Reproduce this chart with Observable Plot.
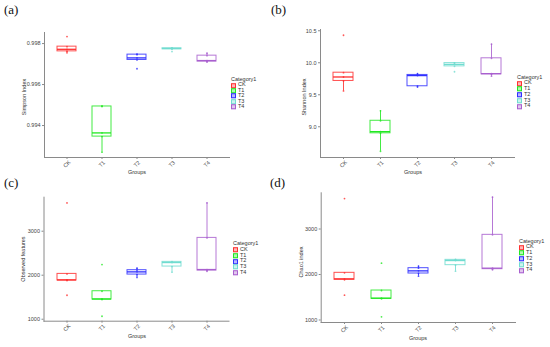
<!DOCTYPE html>
<html><head><meta charset="utf-8">
<script src="https://cdn.jsdelivr.net/npm/d3@7"></script>
<script src="https://cdn.jsdelivr.net/npm/@observablehq/plot@0.6"></script>
<style>
body{margin:0;background:#fff;}
#wrap{position:relative;width:550px;height:347px;overflow:hidden;font-family:"Liberation Sans",Arial,sans-serif;background:#fff;}
.panel{position:absolute;}
.tag{position:absolute;font-family:"Liberation Serif","Times New Roman",serif;font-weight:normal;font-size:13px;color:#111;line-height:1;}
.ytitle{position:absolute;font-size:5.5px;color:#333;transform:translate(-50%,-50%) rotate(-90deg);white-space:nowrap;line-height:1;}
.xtitle{position:absolute;font-size:5.5px;color:#333;transform:translate(-50%,-50%);white-space:nowrap;line-height:1;}
.leg{position:absolute;font-size:5.5px;color:#333;line-height:1;white-space:nowrap;}
.leg .it{position:absolute;left:0;display:flex;align-items:center;transform:translateY(-50%);}
.leg .key{display:inline-block;width:3px;height:3px;border:0.8px solid;margin-right:2px;}
</style>
</head><body>
<div id="wrap"></div>
<script>
const cats = ["CK", "T1", "T2", "T3", "T4"];
const colors = ["#ff3030", "#22e822", "#3030ff", "#70dcd0", "#a960cf"];

const simpsonValues = [
  [0.99755, 0.99762, 0.99772, 0.99785, 0.99834],
  [0.99270, 0.99346, 0.99364, 0.99493, 0.99495],
  [0.99677, 0.99720, 0.99730, 0.99746, 0.99748],
  [0.99761, 0.99772, 0.99776, 0.99777, 0.99779],
  [0.99710, 0.99712, 0.99717, 0.99741, 0.99753]
];
const shannonValues = [
  [9.56, 9.716, 9.778, 9.845, 10.43],
  [8.618, 8.898, 8.924, 9.094, 9.25],
  [9.62, 9.633, 9.80, 9.81, 9.83],
  [9.86, 9.944, 9.975, 9.995, 10.0],
  [9.79, 9.82, 9.83, 10.07, 10.29]
];
const observedValues = [
  [1545, 1880, 1894, 2030, 3644],
  [1068, 1447, 1460, 1636, 2242],
  [1950, 2015, 2076, 2114, 2160],
  [2068, 2197, 2288, 2303, 2310],
  [2090, 2106, 2129, 2848, 3644]
];
const chao1Values = [
  [1546, 1883, 1905, 2037, 3670],
  [1070, 1465, 1480, 1648, 2249],
  [1963, 2022, 2080, 2139, 2183],
  [2073, 2205, 2307, 2322, 2330],
  [2102, 2117, 2139, 2872, 3700]
];

const simpsonTicks = [0.994, 0.996, 0.998];
const shannonTicks = [9.0, 9.5, 10.0, 10.5];
const countTicks = [1000, 2000, 3000];

const panels = [
  {tag: "(a)", tagX: 4, tagY: 3, values: simpsonValues, title: "Simpson Index", domain: [0.99244, 0.99854], ticks: simpsonTicks, fmt: d3.format(".3f"),
   left: 0, top: 0, w: 275, h: 174, mt: 32, mb: 17, ml: 44, mr: 46, ytx: 25, yty: 97, xtx: 137, xty: 172.5, lx: 231, ly: 80, lstep: 5.4},
  {tag: "(b)", tagX: 271, tagY: 3, values: shannonValues, title: "Shannon Index", domain: [8.52, 10.52], ticks: shannonTicks, fmt: d3.format(".1f"),
   left: 275, top: 0, w: 275, h: 174, mt: 29, mb: 17, ml: 45, mr: 36, ytx: 305, yty: 97, xtx: 413, xty: 173, lx: 517, ly: 77.5, lstep: 5.75},
  {tag: "(c)", tagX: 4, tagY: 176, values: observedValues, title: "Observed features", domain: [955, 3773], ticks: countTicks, fmt: d3.format("d"),
   left: 0, top: 174, w: 275, h: 173, mt: 22.7, mb: 26.3, ml: 43.5, mr: 46.5, ytx: 24, yty: 259, xtx: 137, xty: 337, lx: 233, ly: 244, lstep: 5.75},
  {tag: "(d)", tagX: 270, tagY: 176, values: chao1Values, title: "Chao1 index", domain: [945, 3796], ticks: countTicks, fmt: d3.format("d"),
   left: 275, top: 174, w: 275, h: 173, mt: 18.3, mb: 25, ml: 45.7, mr: 35, ytx: 302, yty: 262, xtx: 418, xty: 339, lx: 519, ly: 241.7, lstep: 5.75}
];

function boxStats(vals, cat) {
  const s = vals.slice().sort(d3.ascending);
  const q1 = d3.quantile(s, 0.25), med = d3.quantile(s, 0.5), q3 = d3.quantile(s, 0.75);
  const iqr = q3 - q1;
  const lo = d3.min(s.filter(v => v >= q1 - 1.5 * iqr));
  const hi = d3.max(s.filter(v => v <= q3 + 1.5 * iqr));
  return {cat, q1, med, q3, lo, hi};
}

const wrap = document.getElementById("wrap");
function addDiv(cls, text, x, y) {
  const d = document.createElement("div");
  d.className = cls; d.textContent = text;
  d.style.left = x + "px"; d.style.top = y + "px";
  wrap.appendChild(d); return d;
}

for (const p of panels) {
  const st = cats.map((c, i) => boxStats(p.values[i], c));
  const pts = cats.flatMap((c, i) => p.values[i].map(v => ({cat: c, v})));
  const chart = Plot.plot({
    width: p.w, height: p.h,
    marginTop: p.mt, marginBottom: p.mb, marginLeft: p.ml, marginRight: p.mr,
    x: {type: "band", domain: cats, paddingInner: 0.47, paddingOuter: 0.335, axis: null},
    y: {domain: p.domain, axis: null},
    color: {domain: cats, range: colors},
    style: {fontFamily: "'Liberation Sans', Arial, sans-serif", fontSize: "5.5px", color: "#444", background: "transparent", overflow: "visible"},
    marks: [
      Plot.frame({anchor: "left", stroke: "#8a8a8a", strokeWidth: 1}),
      Plot.frame({anchor: "bottom", stroke: "#8a8a8a", strokeWidth: 1}),
      Plot.axisY({ticks: p.ticks, tickFormat: p.fmt, tickSize: 2, tickPadding: 2, label: null, stroke: "#8a8a8a", fill: "#444", fontSize: 5.5}),
      Plot.axisX({tickSize: 2, tickFormat: () => "", label: null, stroke: "#8a8a8a"}),
      Plot.text(cats, {x: d => d, frameAnchor: "bottom", dy: 6.5, rotate: -45, textAnchor: "middle", lineAnchor: "middle", fill: "#444", fontSize: 5.5}),
      Plot.ruleX(st, {x: "cat", y1: "lo", y2: "q1", stroke: "cat", strokeWidth: 1, strokeOpacity: 0.85}),
      Plot.ruleX(st, {x: "cat", y1: "q3", y2: "hi", stroke: "cat", strokeWidth: 1, strokeOpacity: 0.85}),
      Plot.barY(st, {x: "cat", y1: "q1", y2: "q3", fill: "none", stroke: "cat", strokeWidth: 1, strokeOpacity: 0.85}),
      Plot.tickY(st, {x: "cat", y: "med", stroke: "cat", strokeWidth: 1.3}),
      Plot.dot(pts, {x: "cat", y: "v", fill: "cat", r: 0.9, fillOpacity: 0.8})
    ]
  });
  chart.classList.add("panel");
  chart.style.left = p.left + "px"; chart.style.top = p.top + "px";
  wrap.appendChild(chart);

  addDiv("tag", p.tag, p.tagX, p.tagY);
  addDiv("ytitle", p.title, p.ytx, p.yty);
  addDiv("xtitle", "Groups", p.xtx, p.xty);

  const leg = document.createElement("div");
  leg.className = "leg";
  leg.style.left = p.lx + "px"; leg.style.top = p.ly + "px";
  const t = document.createElement("div");
  t.className = "it"; t.style.top = "0px"; t.textContent = "Category1";
  leg.appendChild(t);
  cats.forEach((c, i) => {
    const it = document.createElement("div");
    it.className = "it"; it.style.top = (p.lstep * (i + 1)) + "px";
    const k = document.createElement("span");
    k.className = "key";
    k.style.borderColor = colors[i];
    k.style.background = d3.color(colors[i]).copy({opacity: 0.35}).formatRgb();
    it.appendChild(k);
    it.appendChild(document.createTextNode(c));
    leg.appendChild(it);
  });
  wrap.appendChild(leg);
}
</script>
</body></html>
